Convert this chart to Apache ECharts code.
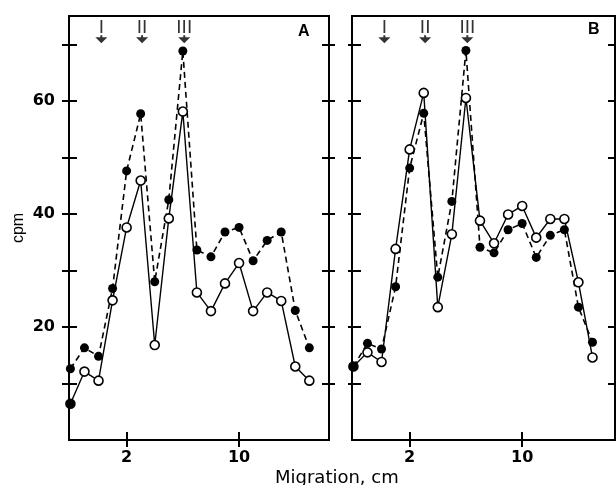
<!DOCTYPE html>
<html>
<head>
<meta charset="utf-8">
<script src="https://cdn.jsdelivr.net/npm/echarts@6/dist/echarts.min.js"></script>
<style>
  html, body { margin: 0; padding: 0; background: #fff; }
  #chart { width: 616px; height: 485px; }
</style>
</head>
<body>
<div id="chart"></div>
<script>
// fraction positions along the gel (matches the "2" and "10" ticks)
var migration = [-2, -1, 0, 1, 2, 3, 4, 5, 6, 7, 8, 9, 10, 11, 12, 13, 14, 15];
// panel A
var filledA = [12.6, 16.3, 14.8, 26.8, 47.6, 57.7, 28.0, 42.5, 68.8, 33.6, 32.4, 36.8, 37.6, 31.7, 35.3, 36.8, 22.9, 16.3];
var openA = [6.4, 12.1, 10.5, 24.7, 37.6, 45.9, 16.8, 39.2, 58.1, 26.1, 22.8, 27.7, 31.3, 22.8, 26.1, 24.6, 13.0, 10.5];
// panel B
var filledB = [13.0, 17.1, 16.1, 27.1, 48.1, 57.8, 28.8, 42.2, 68.9, 34.1, 33.1, 37.2, 38.3, 32.3, 36.2, 37.2, 23.5, 17.3];
var openB = [13.0, 15.5, 13.8, 33.8, 51.4, 61.4, 23.5, 36.4, 60.5, 38.8, 34.8, 39.9, 41.4, 35.8, 39.1, 39.1, 27.9, 14.6];
// marker arrows I, II, III
var markerX = [0.2, 3.1, 6.1];
var markerNames = ['I', 'II', 'III'];
// ticks
var xTicks = [2, 10];
var yTicks = [10, 20, 30, 40, 50, 60, 70];
var yLabels = [20, 40, 60];

function pairs(xs, ys) {
  return xs.map(function (x, i) { return [x, ys[i]]; });
}

var black = '#000';
var labelFont = { color: black, fontSize: 16, fontWeight: 'bold', fontFamily: 'DejaVu Sans' };

var grids = [
  { left: 69, top: 16, width: 260, height: 424, xMax: 16.4, outR: 6, showLabels: true },
  { left: 352, top: 16, width: 263, height: 424, xMax: 16.6, outR: 0, showLabels: false }
];

var xAxes = [], yAxes = [], series = [];

grids.forEach(function (g, gi) {
  // bottom axis, outward ticks + labels
  xAxes.push({
    gridIndex: gi, type: 'value', min: -2.1, max: g.xMax, position: 'bottom',
    axisLine: { show: true, onZero: false, lineStyle: { color: black, width: 2 } },
    axisTick: { show: true, customValues: xTicks, length: 7, lineStyle: { color: black, width: 2 } },
    axisLabel: Object.assign({ customValues: xTicks, margin: 10 }, labelFont),
    splitLine: { show: false }
  });
  // same axis, inward half of the crossing ticks
  xAxes.push({
    gridIndex: gi, type: 'value', min: -2.1, max: g.xMax, position: 'bottom',
    axisLine: { show: false, onZero: false },
    axisTick: { show: true, inside: true, customValues: xTicks, length: 8, lineStyle: { color: black, width: 2 } },
    axisLabel: { show: false },
    splitLine: { show: false }
  });

  var yBase = { gridIndex: gi, type: 'value', min: 0, max: 75, splitLine: { show: false } };
  var tickStyle = { color: black, width: 2 };
  yAxes.push(Object.assign({}, yBase, {
    position: 'left',
    name: g.showLabels ? 'cpm' : '',
    nameLocation: 'middle', nameGap: 42,
    nameTextStyle: { color: black, fontSize: 16, fontFamily: 'Liberation Sans' },
    axisLine: { show: true, onZero: false, lineStyle: { color: black, width: 2 } },
    axisTick: { show: true, customValues: yTicks, length: g.showLabels ? 7 : 4, lineStyle: tickStyle },
    axisLabel: Object.assign({ show: g.showLabels, customValues: yLabels, margin: 14 }, labelFont)
  }));
  yAxes.push(Object.assign({}, yBase, {
    position: 'left',
    axisLine: { show: false, onZero: false },
    axisTick: { show: true, inside: true, customValues: yTicks, length: g.showLabels ? 8 : 9, lineStyle: tickStyle },
    axisLabel: { show: false }
  }));
  yAxes.push(Object.assign({}, yBase, {
    position: 'right',
    axisLine: { show: true, onZero: false, lineStyle: { color: black, width: 2 } },
    axisTick: { show: g.outR > 0, customValues: yTicks, length: g.outR, lineStyle: tickStyle },
    axisLabel: { show: false }
  }));
  yAxes.push(Object.assign({}, yBase, {
    position: 'right',
    axisLine: { show: false, onZero: false },
    axisTick: { show: true, inside: true, customValues: yTicks, length: 7, lineStyle: tickStyle },
    axisLabel: { show: false }
  }));
});

function addPanel(gi, filled, open) {
  var xi = gi * 2, yi = gi * 4;
  series.push({
    type: 'line', xAxisIndex: xi, yAxisIndex: yi,
    data: pairs(migration, filled),
    symbol: 'circle', symbolSize: 9, showAllSymbol: true,
    itemStyle: { color: black },
    lineStyle: { color: black, width: 1.6, type: [6, 4] },
    z: 2
  });
  // the first open point is printed solid in the original
  var openData = pairs(migration, open).map(function (d, i) {
    return i === 0 ? { value: d, itemStyle: { color: black } } : d;
  });
  series.push({
    type: 'line', xAxisIndex: xi, yAxisIndex: yi,
    data: openData,
    symbol: 'circle', symbolSize: 9, showAllSymbol: true,
    itemStyle: { color: '#fff', borderColor: black, borderWidth: 1.6 },
    lineStyle: { color: black, width: 1.4 },
    z: 3
  });
  series.push({
    type: 'scatter', xAxisIndex: xi, yAxisIndex: yi,
    data: markerX.map(function (x) { return [x, 70.9]; }),
    symbol: 'path://M5,0 L7,0 L7,2 L12,2 L6,8 L0,2 L5,2 Z',
    symbolSize: [12, 8],
    itemStyle: { color: black },
    label: {
      show: true, position: 'top', distance: -2,
      formatter: function (p) { return markerNames[p.dataIndex]; },
      color: black, fontSize: 19, fontFamily: 'Liberation Sans'
    },
    z: 4
  });
}

addPanel(0, filledA, openA);
addPanel(1, filledB, openB);

var chart = echarts.init(document.getElementById('chart'));
chart.setOption({
  animation: false,
  grid: grids.map(function (g) {
    return {
      left: g.left, top: g.top, width: g.width, height: g.height,
      show: true, borderColor: black, borderWidth: 2, containLabel: false
    };
  }),
  title: [
    { text: 'A', left: 298, top: 24, padding: 0, textStyle: { color: black, fontSize: 16, fontWeight: 'bold', fontFamily: 'Liberation Sans' } },
    { text: 'B', left: 588, top: 22, padding: 0, textStyle: { color: black, fontSize: 16, fontWeight: 'bold', fontFamily: 'Liberation Sans' } }
  ],
  graphic: [{
    type: 'text', left: 275, top: 469,
    style: { text: 'Migration, cm', fill: black, fontSize: 18, fontFamily: 'DejaVu Sans' }
  }],
  xAxis: xAxes,
  yAxis: yAxes,
  series: series
});
</script>
</body>
</html>
